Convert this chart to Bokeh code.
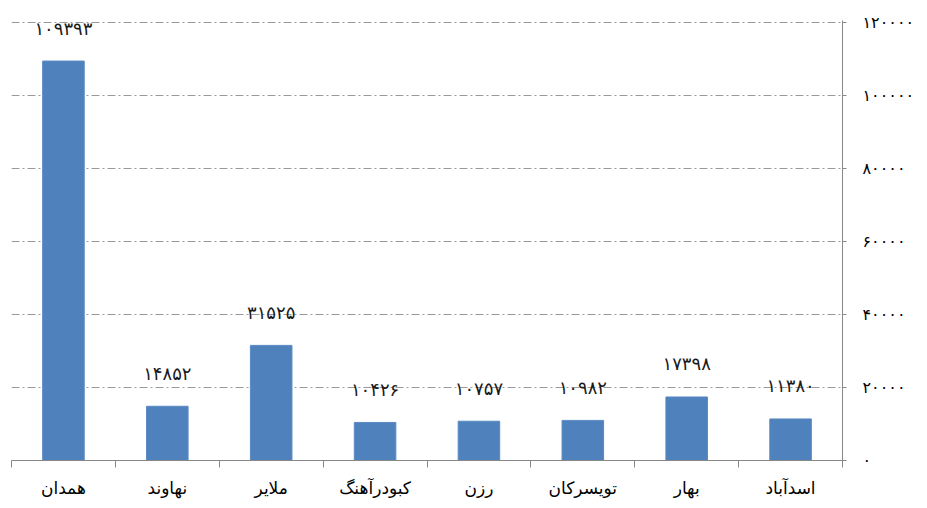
from bokeh.plotting import figure
from bokeh.models import ColumnDataSource, FixedTicker, Range1d
from bokeh.core.properties import value
from bokeh.embed import file_html
from bokeh.resources import INLINE

cities = ["همدان", "نهاوند", "ملایر", "کبودرآهنگ", "رزن", "تویسرکان", "بهار", "اسدآباد"]
values = [109393, 14852, 31525, 10426, 10757, 10982, 17398, 11380]
y_ticks = [0, 20000, 40000, 60000, 80000, 100000, 120000]

fa = str.maketrans("0123456789", "۰۱۲۳۴۵۶۷۸۹")
xs = [i + 0.5 for i in range(len(cities))]
src = ColumnDataSource(dict(x=xs, v=values, lab=[str(v).translate(fa) for v in values]))

FONT = "DejaVu Sans"

p = figure(width=918, height=500, x_range=Range1d(0, len(cities)), y_range=Range1d(0, 120500),
           output_backend="svg", toolbar_location=None, y_axis_location="right",
           min_border_left=11, min_border_right=76, min_border_top=20, min_border_bottom=30)
p.outline_line_color = None
p.background_fill_color = "white"

p.vbar(x="x", top="v", width=0.4, source=src, fill_color="#4F81BD", line_color="#5A8AC4")
p.text(x="x", y="v", text="lab", source=src, text_align="center", text_baseline="middle",
       y_offset=-33, text_font=value(FONT), text_font_size="18px", text_color="#1a1a1a")

# x axis
p.xaxis.ticker = FixedTicker(ticks=xs, minor_ticks=list(range(len(cities) + 1)))
p.xaxis.major_label_overrides = {x: c for x, c in zip(xs, cities)}
p.xaxis.major_tick_out = 0
p.xaxis.major_tick_in = 0
p.xaxis.minor_tick_out = 7
p.xaxis.minor_tick_in = 0
p.xaxis.axis_line_color = "#888888"
p.xaxis.minor_tick_line_color = "#888888"
p.xaxis.major_label_standoff = 10
p.xaxis.major_label_text_font = FONT
p.xaxis.major_label_text_font_size = "17px"
p.xaxis.major_label_text_color = "black"

# y axis (right)
p.yaxis.ticker = FixedTicker(ticks=y_ticks)
p.yaxis.major_label_overrides = {t: str(t).translate(fa) for t in y_ticks}
p.yaxis.major_tick_out = 4
p.yaxis.major_tick_in = 0
p.yaxis.minor_tick_out = 0
p.yaxis.minor_tick_in = 0
p.yaxis.axis_line_color = "#888888"
p.yaxis.major_tick_line_color = "#888888"
p.yaxis.major_label_standoff = 16
p.yaxis.major_label_text_font = FONT
p.yaxis.major_label_text_font_size = "16px"
p.yaxis.major_label_text_color = "black"

p.xgrid.grid_line_color = None
p.ygrid.grid_line_color = "#9a9a9a"
p.ygrid.grid_line_dash = "8 3 2 3"
p.ygrid.grid_line_width = 1

open("out.html", "w").write(file_html(p, INLINE))
